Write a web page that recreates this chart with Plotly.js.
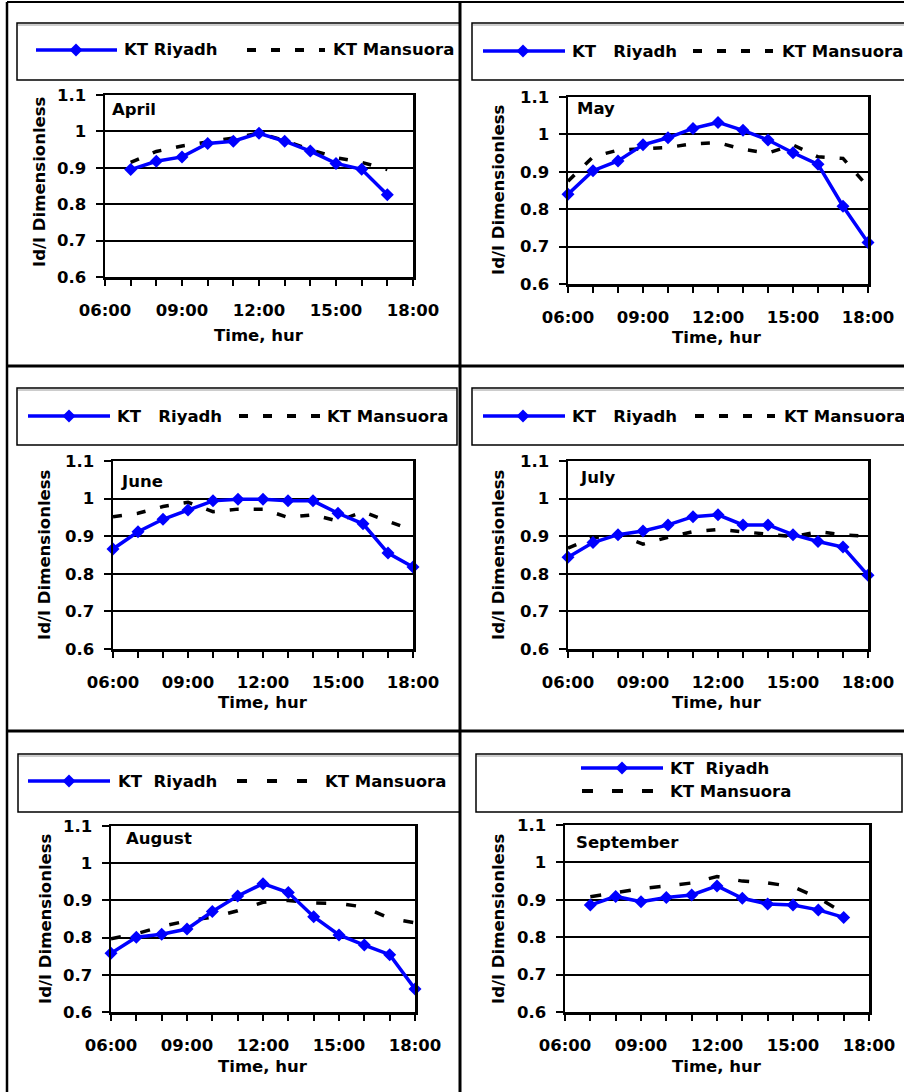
<!DOCTYPE html>
<html>
<head>
<meta charset="utf-8">
<script src="https://cdn.plot.ly/plotly-3.0.1.min.js"></script>
<style>html,body{margin:0;padding:0;background:#fff;}#chart{width:904px;height:1092px;}</style>
</head>
<body>
<div id="chart"></div>
<script>
// ---------------- data ----------------
const months = ["April", "May", "June", "July", "August", "September"];
const hours6to18 = [6, 7, 8, 9, 10, 11, 12, 13, 14, 15, 16, 17, 18];
const hours7to17 = [7, 8, 9, 10, 11, 12, 13, 14, 15, 16, 17];

const aprilRiyadh   = [0.895, 0.918, 0.930, 0.967, 0.973, 0.995, 0.973, 0.946, 0.912, 0.896, 0.826];
const aprilMansuora = [0.915, 0.945, 0.960, 0.970, 0.982, 0.995, 0.975, 0.950, 0.928, 0.915, 0.895];

const mayRiyadh   = [0.840, 0.903, 0.929, 0.972, 0.991, 1.016, 1.032, 1.011, 0.985, 0.951, 0.920, 0.808, 0.711];
const mayMansuora = [0.875, 0.940, 0.958, 0.962, 0.965, 0.975, 0.978, 0.960, 0.950, 0.972, 0.940, 0.936, 0.860];

const juneRiyadh   = [0.866, 0.912, 0.945, 0.970, 0.994, 0.998, 0.998, 0.994, 0.994, 0.961, 0.933, 0.855, 0.818];
const juneMansuora = [0.952, 0.961, 0.979, 0.990, 0.965, 0.972, 0.972, 0.950, 0.957, 0.940, 0.965, 0.940, 0.915];

const julyRiyadh   = [0.844, 0.883, 0.904, 0.914, 0.930, 0.952, 0.957, 0.930, 0.930, 0.904, 0.886, 0.871, 0.796];
const julyMansuora = [0.868, 0.896, 0.904, 0.879, 0.897, 0.912, 0.918, 0.912, 0.906, 0.899, 0.912, 0.904, 0.899];

const augustRiyadh   = [0.758, 0.801, 0.809, 0.823, 0.870, 0.912, 0.945, 0.921, 0.856, 0.807, 0.780, 0.754, 0.662];
const augustMansuora = [0.797, 0.810, 0.830, 0.845, 0.855, 0.872, 0.895, 0.900, 0.893, 0.892, 0.882, 0.852, 0.840];

const septemberRiyadh   = [0.886, 0.909, 0.895, 0.906, 0.913, 0.937, 0.904, 0.889, 0.886, 0.873, 0.853];
const septemberMansuora = [0.908, 0.920, 0.930, 0.937, 0.945, 0.962, 0.950, 0.945, 0.935, 0.905, 0.865];

const xTickVals = [6, 7, 8, 9, 10, 11, 12, 13, 14, 15, 16, 17, 18];
const xTickText = ["06:00", "", "", "09:00", "", "", "12:00", "", "", "15:00", "", "", "18:00"];
const yTickVals = [0.6, 0.7, 0.8, 0.9, 1.0, 1.1];
const yTickText = ["0.6", "0.7", "0.8", "0.9", "1", "1.1"];

const seriesRiyadh = "KT Riyadh";
const seriesMansuora = "KT Mansuora";
const xTitle = "Time, hur";
const yTitle = "Id/I Dimensionless";

// ---------------- geometry (pixels) ----------------
const W = 904, H = 1092;
const PX = x => x / W;
const PY = y => 1 - y / H;
const NB = "\u00a0";

const panels = [
  {month: months[0], x: hours7to17, r: aprilRiyadh, m: aprilMansuora,
   box: [105, 413, 95, 277], label: [110, 110], yt: [40, 182], xt: [259, 335],
   leg: [17, 460, 23, 80], lineS: [36, 117, 50], dia: 76, rTxt: 122, rGap: 1,
   dashS: [247, 325, 50], mTxt: [331, 50], dash: "9px,15px"},
  {month: months[1], x: hours6to18, r: mayRiyadh, m: mayMansuora,
   box: [568, 868, 97, 284], label: [575, 109], yt: [498, 190], xt: [717, 337],
   leg: [472, 910, 23, 80], lineS: [483, 565, 51], dia: 523, rTxt: 570, rGap: 3,
   dashS: [693, 773, 51], mTxt: [780, 51], dash: "9px,15px"},
  {month: months[2], x: hours6to18, r: juneRiyadh, m: juneMansuora,
   box: [113, 413, 461, 649], label: [119, 481], yt: [44, 555], xt: [263, 702],
   leg: [17, 457, 388, 445], lineS: [28, 110, 416], dia: 69, rTxt: 115, rGap: 3,
   dashS: [239, 320, 416], mTxt: [325, 416], dash: "9px,15px"},
  {month: months[3], x: hours6to18, r: julyRiyadh, m: julyMansuora,
   box: [568, 868, 461, 649], label: [578, 477], yt: [498, 555], xt: [717, 702],
   leg: [472, 910, 388, 445], lineS: [483, 565, 416], dia: 523, rTxt: 570, rGap: 3,
   dashS: [695, 775, 416], mTxt: [782, 416], dash: "9px,15px"},
  {month: months[4], x: hours6to18, r: augustRiyadh, m: augustMansuora,
   box: [111, 415, 826, 1012], label: [124, 838], yt: [45, 919], xt: [263, 1066],
   leg: [18, 460, 754, 812], lineS: [28, 110, 781], dia: 69, rTxt: 116, rGap: 2,
   dashS: [237, 308, 781], mTxt: [323, 781], dash: "10px,20px"},
  {month: months[5], x: hours7to17, r: septemberRiyadh, m: septemberMansuora,
   box: [565, 869, 825, 1012], label: [574, 842], yt: [498, 919], xt: [717, 1066],
   leg: [476, 902, 754, 812], lineS: [581, 663, 768], dia: 622, rTxt: 668, rGap: 2,
   dashS: [582, 655, 791], mTxt: [668, 791], dash: "11px,19px"}
];

const FONT = {family: "DejaVu Sans", size: 16.5, color: "#000", weight: "bold"};
const BLUE = "#0000FF";

const data = [];
const layout = {
  width: W, height: H,
  margin: {l: 0, r: 0, t: 0, b: 0},
  paper_bgcolor: "#fff", plot_bgcolor: "#fff",
  showlegend: false,
  font: FONT,
  shapes: [], annotations: []
};

panels.forEach((p, i) => {
  const n = i + 1;
  const xa = "x" + (n === 1 ? "" : n), ya = "y" + (n === 1 ? "" : n);
  const xk = "xaxis" + (n === 1 ? "" : n), yk = "yaxis" + (n === 1 ? "" : n);

  data.push({x: p.x, y: p.m, xaxis: xa, yaxis: ya, type: "scatter", mode: "lines",
    name: seriesMansuora, line: {color: "#000", width: 3.5, dash: p.dash}, cliponaxis: true});
  data.push({x: p.x, y: p.r, xaxis: xa, yaxis: ya, type: "scatter", mode: "lines+markers",
    name: seriesRiyadh, line: {color: BLUE, width: 3.5},
    marker: {symbol: "diamond", size: 10, color: BLUE, line: {width: 0}}, cliponaxis: false});

  layout[xk] = {
    domain: [PX(p.box[0]), PX(p.box[1])], anchor: ya, range: [6, 18],
    tickmode: "array", tickvals: xTickVals, ticktext: xTickText,
    ticks: "outside", ticklen: 6, tickwidth: 2, tickcolor: "#000",
    showline: true, linewidth: 2.5, linecolor: "#000", mirror: true,
    showgrid: false, zeroline: false, fixedrange: true,
    tickfont: FONT, ticklabelstandoff: 11
  };
  layout[yk] = {
    domain: [PY(p.box[3]), PY(p.box[2])], anchor: xa, range: [0.6, 1.1],
    tickmode: "array", tickvals: yTickVals, ticktext: yTickText,
    ticks: "outside", ticklen: 7, tickwidth: 2, tickcolor: "#000",
    showline: true, linewidth: 2.5, linecolor: "#000", mirror: true,
    showgrid: true, gridcolor: "#000", gridwidth: 2, zeroline: false, fixedrange: true,
    tickfont: FONT, ticklabelstandoff: 6
  };

  // month label
  layout.annotations.push({text: p.month, xref: "paper", yref: "paper",
    x: PX(p.label[0]), y: PY(p.label[1]), xanchor: "left", yanchor: "middle",
    showarrow: false, font: FONT});
  // axis titles
  layout.annotations.push({text: yTitle, xref: "paper", yref: "paper",
    x: PX(p.yt[0]), y: PY(p.yt[1]), xanchor: "center", yanchor: "middle", textangle: -90,
    showarrow: false, font: FONT});
  layout.annotations.push({text: xTitle, xref: "paper", yref: "paper",
    x: PX(p.xt[0]), y: PY(p.xt[1]), xanchor: "center", yanchor: "middle",
    showarrow: false, font: FONT});

  // legend box
  layout.shapes.push({type: "rect", xref: "paper", yref: "paper",
    x0: PX(p.leg[0]), x1: PX(p.leg[1]), y0: PY(p.leg[2]), y1: PY(p.leg[3]),
    line: {color: "#000", width: 1.5}, fillcolor: "rgba(0,0,0,0)"});
  layout.shapes.push({type: "line", xref: "paper", yref: "paper",
    x0: PX(p.leg[0] + 1), x1: PX(p.leg[1] - 1), y0: PY(p.leg[2] + 2), y1: PY(p.leg[2] + 2),
    line: {color: "#9a9a9a", width: 1}});
  // legend sample: Riyadh
  layout.shapes.push({type: "line", xref: "paper", yref: "paper",
    x0: PX(p.lineS[0]), x1: PX(p.lineS[1]), y0: PY(p.lineS[2]), y1: PY(p.lineS[2]),
    line: {color: BLUE, width: 3.5}});
  layout.shapes.push({type: "path", xref: "paper", yref: "paper",
    xsizemode: "pixel", ysizemode: "pixel", xanchor: PX(p.dia), yanchor: PY(p.lineS[2]),
    path: "M-6.5,0L0,6.5L6.5,0L0,-6.5Z", fillcolor: BLUE, line: {width: 0}});
  layout.annotations.push({text: seriesRiyadh.replace(" ", NB.repeat(p.rGap)), xref: "paper", yref: "paper",
    x: PX(p.rTxt), y: PY(p.lineS[2]), xanchor: "left", yanchor: "middle",
    showarrow: false, font: FONT});
  // legend sample: Mansuora
  layout.shapes.push({type: "line", xref: "paper", yref: "paper",
    x0: PX(p.dashS[0]), x1: PX(p.dashS[1]), y0: PY(p.dashS[2]), y1: PY(p.dashS[2]),
    line: {color: "#000", width: 4, dash: p.dash}});
  layout.annotations.push({text: seriesMansuora, xref: "paper", yref: "paper",
    x: PX(p.mTxt[0]), y: PY(p.mTxt[1]), xanchor: "left", yanchor: "middle",
    showarrow: false, font: FONT});
});

// panel frame lines
const frame = [
  [7, 2, 904, 2, 2], [7, 2, 7, 1092, 2.5], [460, 2, 460, 1092, 3],
  [7, 366, 904, 366, 3], [7, 731, 904, 731, 3]
];
frame.forEach(f => layout.shapes.push({type: "line", xref: "paper", yref: "paper",
  x0: PX(f[0]), y0: PY(f[1]), x1: PX(f[2]), y1: PY(f[3]), line: {color: "#000", width: f[4]}}));

Plotly.newPlot("chart", data, layout, {staticPlot: true, displayModeBar: false});
</script>
</body>
</html>
